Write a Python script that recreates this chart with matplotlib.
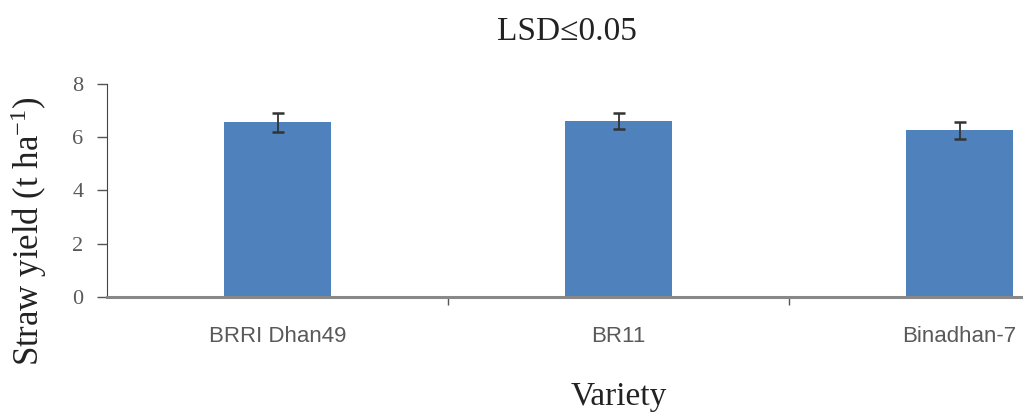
import matplotlib
matplotlib.use('Agg')
import matplotlib.pyplot as plt
import numpy as np

# data
varieties = ["BRRI Dhan49", "BR11", "Binadhan-7"]
straw_yield = [6.55, 6.6, 6.25]
yield_err = [0.34, 0.3, 0.32]
y_ticks = [0, 2, 4, 6, 8]

plt.rcParams['mathtext.default'] = 'regular'
serif = ['Liberation Serif', 'DejaVu Serif']

fig = plt.figure(figsize=(10.23, 4.13), dpi=100)
# axes runs past the right edge, as in the cropped original
ax = fig.add_axes([0.1046, 0.281, 1.0, 0.516])

x = np.arange(len(varieties))
ax.bar(x, straw_yield, width=0.314, color='#4F81BD', zorder=2)
ax.errorbar(x, straw_yield, yerr=yield_err, fmt='none', ecolor='#333333',
            elinewidth=1.3, capsize=4.5, capthick=1.8, zorder=3)

ax.set_xlim(-0.5, 2.5)
ax.set_ylim(0, 8)
ax.set_yticks(y_ticks)
ax.set_xticks(x)
ax.set_xticklabels(varieties, fontsize=16, color='#595959', family='Liberation Sans')
ax.set_xticks([0.5, 1.5], minor=True)
ax.tick_params(axis='x', which='major', length=0, pad=21)
ax.tick_params(axis='x', which='minor', length=6, width=1, color='#555555', direction='out')
ax.tick_params(axis='y', length=7, width=1, color='#555555', labelsize=16, labelcolor='#595959', pad=10)
for lab in ax.get_yticklabels():
    lab.set_family(serif)

ax.spines['top'].set_visible(False)
ax.spines['right'].set_visible(False)
ax.spines['left'].set_color('#444444')
ax.spines['bottom'].set_color('#888888')
ax.spines['bottom'].set_linewidth(2.2)

fig.text(0.028, 0.44, "Straw yield (t ha$^{-1}$)", rotation=90, ha='center', va='center',
         fontsize=25, family=serif, color='#222222')
fig.text(0.605, 0.0194, "Variety", ha='center', va='baseline', fontsize=24, family=serif, color='#222222')
fig.text(0.554, 0.903, "LSD≤0.05", ha='center', va='baseline', fontsize=24, family=serif, color='#222222')

plt.savefig('out.png', dpi=100)
plt.close()
